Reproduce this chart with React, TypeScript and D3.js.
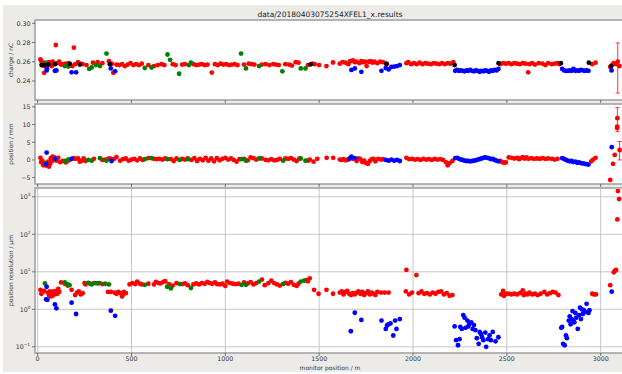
import React, { useEffect, useRef } from 'react';
import * as d3 from 'd3';

const title = 'data/20180403075254XFEL1_x.results';
const xTicks = [0, 500, 1000, 1500, 2000, 2500, 3000];
const chargeTicks = [0.24, 0.26, 0.28, 0.30];
const positionTicks = [-5, 0, 5, 10, 15];
const resolutionExps = [-1, 0, 1, 2, 3];

// charge / nC  [monitor position m, value]
const chargeRed = [[15,0.2625],[20,0.2605],[25,0.258],[30,0.256],[35,0.2485],[40,0.259],[45,0.255],[55,0.257],[60,0.2595],[65,0.2575],[75,0.2555],[80,0.26],[85,0.258],[97,0.2774],[105,0.2585],[115,0.26],[125,0.257],[135,0.2575],[150,0.258],[165,0.2585],[175,0.256],[185,0.2555],[193,0.2746],[200,0.2575],[215,0.2595],[225,0.258],[240,0.2575],[260,0.2565],[295,0.259],[320,0.2595],[345,0.2585],[380,0.2605],[395,0.258],[403,0.2485],[420,0.257],[435,0.2565],[450,0.2575],[465,0.2555],[480,0.257],[495,0.2585],[510,0.2565],[525,0.2575],[540,0.2565],[555,0.258],[590,0.2565],[620,0.2555],[640,0.2565],[660,0.2575],[675,0.2565],[720,0.2575],[735,0.2565],[770,0.257],[785,0.2575],[830,0.2575],[845,0.2565],[860,0.257],[875,0.2575],[890,0.2565],[905,0.257],[928,0.2487],[945,0.2575],[960,0.2565],[975,0.258],[990,0.257],[1005,0.2575],[1020,0.2565],[1035,0.257],[1050,0.2575],[1065,0.2565],[1100,0.257],[1125,0.258],[1140,0.2575],[1155,0.257],[1195,0.257],[1215,0.2575],[1235,0.2565],[1255,0.2575],[1270,0.257],[1285,0.2565],[1320,0.2575],[1340,0.257],[1355,0.256],[1375,0.2595],[1390,0.259],[1440,0.2565],[1465,0.258],[1476,0.2575],[1500,0.2565],[1539,0.2555],[1574,0.2592],[1610,0.258],[1625,0.2595],[1640,0.259],[1655,0.2575],[1665,0.2605],[1680,0.2615],[1690,0.2595],[1700,0.26],[1715,0.2585],[1725,0.2605],[1735,0.2595],[1745,0.26],[1753,0.2555],[1765,0.26],[1775,0.2605],[1785,0.259],[1795,0.26],[1810,0.2585],[1825,0.26],[1840,0.2595],[1860,0.2575],[1965,0.2585],[1975,0.2595],[1990,0.2575],[2005,0.2585],[2020,0.2575],[2035,0.259],[2050,0.2575],[2065,0.2585],[2080,0.258],[2095,0.2575],[2110,0.2585],[2125,0.258],[2140,0.2575],[2155,0.2585],[2170,0.2575],[2185,0.2585],[2200,0.258],[2215,0.2595],[2465,0.2575],[2480,0.2585],[2495,0.258],[2510,0.2585],[2525,0.2575],[2540,0.2585],[2555,0.258],[2570,0.2575],[2585,0.2585],[2600,0.258],[2614,0.249],[2620,0.2575],[2635,0.2585],[2650,0.257],[2670,0.2585],[2690,0.258],[2705,0.2565],[2720,0.2585],[2740,0.2575],[2755,0.258],[2770,0.2585],[2780,0.2575],[2955,0.2575],[2973,0.259],[3051,0.2545],[3062,0.257],[3070,0.2585],[3082,0.2575],[3091,0.26],[3100,0.2555]];
const chargeGreen = [[40,0.2585],[145,0.2555],[163,0.255],[275,0.2525],[288,0.254],[311,0.2565],[332,0.2555],[367,0.2685],[571,0.2535],[607,0.254],[692,0.2675],[706,0.262],[754,0.2475],[806,0.2565],[817,0.259],[1084,0.2685],[1110,0.253],[1180,0.2555],[1304,0.25],[1402,0.253],[1427,0.253]];
const chargeBlue = [[48,0.251],[50,0.2525],[92,0.2505],[100,0.251],[181,0.249],[205,0.249],[390,0.253],[413,0.25],[1672,0.2515],[1690,0.253],[1725,0.2495],[1832,0.2505],[1855,0.2535],[1870,0.252],[1885,0.2545],[1900,0.255],[1915,0.2555],[1930,0.2565],[2225,0.2505],[2235,0.2515],[2245,0.2505],[2255,0.251],[2265,0.2505],[2275,0.25],[2285,0.251],[2295,0.2505],[2305,0.2515],[2315,0.2505],[2325,0.25],[2335,0.251],[2345,0.2505],[2355,0.2495],[2365,0.2505],[2375,0.25],[2385,0.251],[2395,0.2505],[2405,0.2495],[2415,0.251],[2425,0.2505],[2435,0.2515],[2445,0.251],[2455,0.2525],[2795,0.2525],[2805,0.251],[2815,0.2505],[2825,0.2505],[2835,0.251],[2845,0.2505],[2855,0.2525],[2865,0.2505],[2875,0.251],[2885,0.2505],[2895,0.2515],[2905,0.251],[2915,0.2505],[2925,0.251],[2935,0.2505],[3058,0.251]];
const chargeBlack = [[21,0.2565],[35,0.2565],[57,0.257],[92,0.2575],[172,0.2578],[225,0.257],[385,0.2575],[1455,0.2573],[1858,0.258],[2222,0.2565],[2456,0.2585],[2788,0.2585],[2937,0.259],[3056,0.2555]];
const chargeErr = [[3091,0.2275,0.2795]];

// position / mm
const positionRed = [[15,0.6],[18,-0.6],[25,-0.3],[30,-1.5],[35,-0.9],[45,-1.6],[55,-0.5],[60,-1.9],[65,-1.2],[70,0.5],[75,-0.4],[80,0.9],[90,0.7],[100,-0.2],[110,0.6],[120,-0.6],[135,-0.3],[150,-0.7],[160,-0.3],[170,0.0],[190,0.5],[200,0.3],[215,0.4],[225,-0.5],[235,-0.2],[245,0.4],[255,-0.3],[300,0.3],[345,0.0],[360,0.1],[375,0.3],[385,0.4],[405,0.2],[420,0.8],[440,-0.2],[455,0.2],[470,0.4],[485,-0.2],[500,0.1],[515,0.3],[530,-0.1],[545,0.4],[560,0.0],[590,0.5],[620,0.3],[635,0.2],[650,0.3],[665,0.1],[680,0.4],[710,0.2],[725,-0.3],[740,0.4],[770,0.3],[785,0.1],[800,0.4],[820,0.0],[835,0.5],[850,-0.3],[865,0.3],[880,-0.1],[895,0.6],[910,-0.2],[925,0.4],[940,-0.4],[955,0.5],[970,-0.1],[985,0.3],[1000,0.6],[1015,0.1],[1030,0.4],[1045,0.0],[1060,-0.5],[1075,0.2],[1100,0.3],[1120,-0.1],[1135,0.7],[1150,0.5],[1165,0.1],[1195,0.4],[1215,0.0],[1230,-0.1],[1245,0.2],[1260,-0.1],[1275,0.0],[1290,0.3],[1320,0.4],[1335,0.3],[1350,0.5],[1365,0.1],[1380,-0.3],[1395,0.4],[1440,-0.2],[1450,0.1],[1470,-0.5],[1490,0.3],[1540,0.6],[1575,0.6],[1610,0.1],[1620,0.0],[1630,0.2],[1640,-0.1],[1650,0.0],[1665,0.5],[1680,0.3],[1700,-0.3],[1710,0.4],[1720,0.2],[1730,-0.6],[1740,-0.2],[1750,-0.9],[1760,-1.1],[1770,-0.3],[1780,0.2],[1790,0.3],[1800,-0.4],[1815,0.3],[1830,0.1],[1840,0.2],[1965,0.6],[1980,0.2],[1995,0.3],[2010,0.1],[2025,0.2],[2040,0.0],[2055,0.3],[2070,0.1],[2085,0.2],[2100,0.0],[2115,0.3],[2130,0.1],[2145,0.2],[2160,0.0],[2175,-0.6],[2185,-1.5],[2195,-0.9],[2210,-0.3],[2465,-0.3],[2475,-0.6],[2485,-0.8],[2495,-0.7],[2510,0.7],[2525,0.6],[2540,0.4],[2555,0.6],[2565,0.2],[2575,0.5],[2585,0.8],[2595,0.4],[2605,0.7],[2615,0.3],[2630,0.5],[2645,0.3],[2660,0.4],[2675,0.3],[2690,0.5],[2705,0.3],[2720,0.4],[2740,0.3],[2755,0.1],[2770,0.3],[2950,-0.4],[2960,0.1],[2973,0.6],[3051,-5.65],[3066,-1.1],[3075,1.4],[3088,9.0],[3088,9.4],[3089,11.8],[3101,2.8]];
const positionGreen = [[40,-0.9],[145,-0.3],[163,0.1],[270,0.0],[288,-0.2],[332,0.5],[367,-0.2],[571,0.2],[607,0.5],[692,0.2],[757,0.0],[803,0.2],[1087,0.2],[1110,-0.2],[1180,0.4],[1308,-0.2],[1402,0.4],[1427,-0.2]];
const positionBlue = [[48,2.07],[45,-1.2],[92,0.3],[181,0.3],[394,-0.3],[1660,0.3],[1672,0.95],[1690,0.5],[1855,0.0],[1870,-0.2],[1885,0.1],[1900,-0.2],[1915,0.0],[1930,-0.3],[2225,0.5],[2235,0.6],[2245,0.3],[2255,0.1],[2265,0.0],[2275,-0.2],[2285,-0.3],[2295,-0.3],[2305,-0.4],[2315,-0.3],[2325,-0.2],[2335,-0.1],[2345,0.1],[2355,0.2],[2365,0.4],[2375,0.6],[2385,0.7],[2395,0.6],[2405,0.5],[2415,0.2],[2425,0.3],[2435,0.0],[2445,-0.2],[2455,-0.4],[2795,0.5],[2805,0.3],[2815,0.0],[2825,-0.2],[2835,-0.4],[2845,-0.3],[2855,-0.6],[2865,-0.5],[2875,-0.8],[2885,-0.7],[2895,-0.9],[2905,-1.0],[2915,-1.1],[2925,-1.2],[2935,-1.3],[3059,3.6]];
const positionErr = [[3089,8.0,14.8],[3101,0.0,5.2]];

// position resolution / um
const resolutionRed = [[15,3.3],[20,2.6],[27,2.9],[35,3.1],[55,2.8],[60,2.4],[65,3.0],[70,2.2],[75,2.6],[80,2.3],[85,3.0],[90,2.5],[95,2.8],[100,3.1],[105,2.6],[110,3.5],[115,2.9],[125,5.2],[145,4.8],[160,4.3],[181,3.3],[200,2.4],[210,2.8],[220,3.0],[230,2.5],[240,2.7],[250,5.0],[255,4.6],[280,4.8],[300,5.0],[320,4.9],[345,4.7],[375,2.9],[390,2.9],[410,2.8],[420,2.6],[430,2.9],[440,2.7],[450,2.2],[455,2.5],[460,2.9],[470,2.7],[490,4.6],[505,5.0],[520,4.7],[530,5.5],[545,4.8],[555,4.6],[590,4.8],[620,4.6],[630,5.4],[645,5.0],[655,4.9],[670,5.4],[680,5.6],[700,4.7],[720,4.3],[740,5.0],[770,4.7],[785,4.9],[800,4.4],[830,4.6],[845,4.9],[860,4.6],[875,5.0],[890,4.8],[905,5.4],[915,5.0],[930,4.8],[945,5.2],[955,4.7],[970,4.6],[985,4.8],[1000,4.2],[1010,5.5],[1025,5.0],[1040,4.8],[1055,4.7],[1070,4.8],[1100,5.2],[1120,4.9],[1135,5.3],[1150,4.6],[1165,5.0],[1195,6.2],[1210,4.4],[1230,5.0],[1245,5.8],[1260,5.0],[1275,4.6],[1290,4.3],[1320,5.1],[1335,4.8],[1350,5.3],[1365,4.5],[1380,4.2],[1390,4.8],[1432,6.0],[1440,5.6],[1450,6.7],[1473,3.3],[1497,2.6],[1539,3.3],[1574,2.6],[1610,2.8],[1620,3.0],[1630,2.5],[1640,2.9],[1650,3.1],[1660,2.6],[1670,2.4],[1680,2.7],[1690,2.5],[1700,2.8],[1710,3.0],[1720,2.6],[1730,2.9],[1740,2.4],[1750,2.7],[1760,3.0],[1770,2.5],[1780,2.8],[1790,2.6],[1800,2.4],[1810,2.9],[1830,2.8],[1850,2.8],[1870,2.8],[1962,3.0],[1965,11.2],[1980,2.5],[1995,2.8],[2018,8.2],[2030,2.7],[2045,3.0],[2060,2.6],[2075,2.7],[2090,2.5],[2105,2.8],[2120,2.6],[2135,2.9],[2150,3.0],[2165,2.5],[2180,2.7],[2195,2.3],[2210,2.4],[2470,2.5],[2480,3.1],[2485,2.3],[2495,2.6],[2510,2.6],[2525,2.5],[2540,2.6],[2555,2.5],[2570,2.7],[2585,3.2],[2590,2.4],[2600,2.6],[2610,2.5],[2620,2.8],[2635,2.5],[2650,2.6],[2665,2.4],[2680,2.6],[2700,2.9],[2715,2.5],[2730,2.7],[2745,2.9],[2760,2.8],[2775,2.4],[2955,2.6],[2965,2.5],[2975,2.5],[3051,4.4],[3070,9.7],[3075,10.5],[3082,11.2],[3089,250],[3092,1420],[3098,870]];
const resolutionGreen = [[39,4.9],[145,5.2],[160,4.6],[170,4.4],[270,5.1],[288,4.6],[310,5.0],[330,5.0],[360,4.8],[380,4.6],[571,4.5],[690,4.0],[710,3.6],[757,4.7],[817,3.7],[1087,4.5],[1110,4.5],[1180,5.5],[1308,4.7],[1402,5.5],[1420,5.8]];
const resolutionBlue = [[48,4.0],[45,1.85],[52,1.8],[92,1.35],[100,1.06],[181,1.5],[205,0.75],[390,0.92],[413,0.67],[1669,0.26],[1690,0.81],[1725,0.52],[1832,0.5],[1855,0.3],[1862,0.37],[1870,0.4],[1880,0.42],[1895,0.2],[1905,0.5],[1912,0.3],[1930,0.55],[2222,0.35],[2230,0.15],[2240,0.11],[2248,0.16],[2252,0.34],[2260,0.3],[2268,0.7],[2275,0.6],[2280,0.32],[2290,0.5],[2295,0.35],[2300,0.4],[2310,0.45],[2318,0.3],[2325,0.38],[2332,0.28],[2340,0.17],[2350,0.12],[2355,0.25],[2362,0.22],[2368,0.18],[2375,0.15],[2385,0.24],[2390,0.1],[2400,0.16],[2408,0.2],[2415,0.15],[2425,0.25],[2440,0.14],[2455,0.18],[2790,0.32],[2795,0.34],[2800,0.12],[2808,0.11],[2815,0.2],[2820,0.17],[2830,0.5],[2835,0.65],[2840,0.4],[2845,0.55],[2850,0.9],[2855,0.5],[2860,0.45],[2865,0.8],[2870,0.6],[2878,0.3],[2885,0.7],[2890,1.1],[2895,0.55],[2900,1.0],[2905,0.75],[2910,0.95],[2918,0.85],[2925,1.4],[2935,0.8],[2940,0.95],[3059,2.95]];

const App = () => {
  const ref = useRef<SVGSVGElement>(null);

  useEffect(() => {
    document.body.style.margin = '0';
    const svg = d3.select(ref.current);
    svg.selectAll('*').remove();

    const width = 622;
    const height = 374;
    const font = "'DejaVu Sans', sans-serif";

    svg.attr('width', width).attr('height', height);
    svg.append('rect').attr('width', width).attr('height', height).attr('fill', '#fff');
    svg.append('rect').attr('x', 3).attr('y', 5).attr('width', width - 3).attr('height', 367).attr('fill', '#edebe8');

    svg.append('text')
      .attr('x', 330).attr('y', 16.5)
      .attr('text-anchor', 'middle')
      .attr('font-family', font).attr('font-size', 7.5).attr('fill', '#222')
      .text(title);

    const x = d3.scaleLinear().domain([-14, 3135]).range([35, 626]);

    const panels = [
      {
        top: 20, bottom: 100, label: 'charge / nC',
        y: d3.scaleLinear().domain([0.2202, 0.3034]).range([100, 20]),
        ticks: chargeTicks, fmt: (d: number) => d.toFixed(2),
        series: [[chargeRed, 'red'], [chargeGreen, 'green'], [chargeBlue, 'blue'], [chargeBlack, 'black']],
        errs: chargeErr, grid: false, log: false,
      },
      {
        top: 104, bottom: 184, label: 'position / mm',
        y: d3.scaleLinear().domain([-6.8, 15.8]).range([184, 104]),
        ticks: positionTicks, fmt: (d: number) => String(d).replace('-', '\u2212'),
        series: [[positionRed, 'red'], [positionGreen, 'green'], [positionBlue, 'blue']],
        errs: positionErr, grid: false, log: false,
      },
      {
        top: 188, bottom: 353, label: 'position resolution / \u00b5m',
        y: d3.scaleLog().domain([Math.pow(10, -1.165), Math.pow(10, 3.235)]).range([353, 188]),
        ticks: resolutionExps.map(e => Math.pow(10, e)), fmt: null,
        series: [[resolutionRed, 'red'], [resolutionGreen, 'green'], [resolutionBlue, 'blue']],
        errs: [], grid: true, log: true,
      },
    ];

    panels.forEach((p: any, i) => {
      const g = svg.append('g');
      const clipId = `clip${i}`;
      svg.append('clipPath').attr('id', clipId)
        .append('rect').attr('x', 35).attr('y', p.top).attr('width', 591).attr('height', p.bottom - p.top);

      g.append('rect')
        .attr('x', 35).attr('y', p.top).attr('width', 591).attr('height', p.bottom - p.top)
        .attr('fill', '#fff');

      if (p.grid) {
        g.append('g').selectAll('line').data(xTicks).enter().append('line')
          .attr('x1', d => x(d)).attr('x2', d => x(d))
          .attr('y1', p.top).attr('y2', p.bottom)
          .attr('stroke', '#b8b8b8').attr('stroke-width', 0.8);
        g.append('g').selectAll('line').data(p.ticks).enter().append('line')
          .attr('x1', 35).attr('x2', 626)
          .attr('y1', (d: number) => p.y(d)).attr('y2', (d: number) => p.y(d))
          .attr('stroke', '#b8b8b8').attr('stroke-width', 0.8);
      }

      const plot = g.append('g').attr('clip-path', `url(#${clipId})`);

      // error bars
      p.errs.forEach((e: number[]) => {
        const ex = x(e[0]);
        plot.append('line').attr('x1', ex).attr('x2', ex).attr('y1', p.y(e[1])).attr('y2', p.y(e[2]))
          .attr('stroke', 'red').attr('stroke-width', 0.8);
        [e[1], e[2]].forEach(v => {
          plot.append('line').attr('x1', ex - 2).attr('x2', ex + 2).attr('y1', p.y(v)).attr('y2', p.y(v))
            .attr('stroke', 'red').attr('stroke-width', 0.8);
        });
      });

      p.series.forEach(([pts, color]: [number[][], string]) => {
        plot.append('g').selectAll('circle').data(pts).enter().append('circle')
          .attr('cx', d => x(d[0]))
          .attr('cy', d => p.y(d[1]))
          .attr('r', 2.4)
          .attr('fill', color);
      });

      // frame
      g.append('rect')
        .attr('x', 35).attr('y', p.top).attr('width', 591).attr('height', p.bottom - p.top)
        .attr('fill', 'none').attr('stroke', '#a3a3a3').attr('stroke-width', 1.6);

      // y ticks
      p.ticks.forEach((t: number, k: number) => {
        const ty = p.y(t);
        g.append('line').attr('x1', 32).attr('x2', 35).attr('y1', ty).attr('y2', ty)
          .attr('stroke', '#444').attr('stroke-width', 0.7);
        const txt = g.append('text')
          .attr('x', 30.5).attr('y', ty + 2.3)
          .attr('text-anchor', 'end')
          .attr('font-family', font).attr('font-size', 6.3).attr('fill', '#333');
        if (p.log) {
          const e = resolutionExps[k];
          txt.append('tspan').text('10');
          txt.append('tspan').attr('dy', -3).attr('font-size', 4.3).text(String(e).replace('-', '\u2212'));
          txt.attr('x', e < 0 ? 30 : 30.5);
        } else {
          txt.text(p.fmt(t));
        }
      });

      // x ticks
      xTicks.forEach(t => {
        g.append('line').attr('x1', x(t)).attr('x2', x(t)).attr('y1', p.bottom).attr('y2', p.bottom + 3)
          .attr('stroke', '#444').attr('stroke-width', 0.7);
      });

      svg.append('text')
        .attr('transform', `translate(12.5, ${(p.top + p.bottom) / 2}) rotate(-90)`)
        .attr('text-anchor', 'middle')
        .attr('font-family', font).attr('font-size', 6).attr('fill', '#333')
        .text(p.label);
    });

    svg.append('g').selectAll('text').data(xTicks).enter().append('text')
      .attr('x', d => x(d)).attr('y', 360.5)
      .attr('text-anchor', 'middle')
      .attr('font-family', font).attr('font-size', 6.3).attr('fill', '#333')
      .text(d => String(d));

    svg.append('text')
      .attr('x', 330).attr('y', 370)
      .attr('text-anchor', 'middle')
      .attr('font-family', font).attr('font-size', 6).attr('fill', '#333')
      .text('monitor position / m');
  }, []);

  return <svg ref={ref} style={{ display: 'block' }}></svg>;
};

export default App;
